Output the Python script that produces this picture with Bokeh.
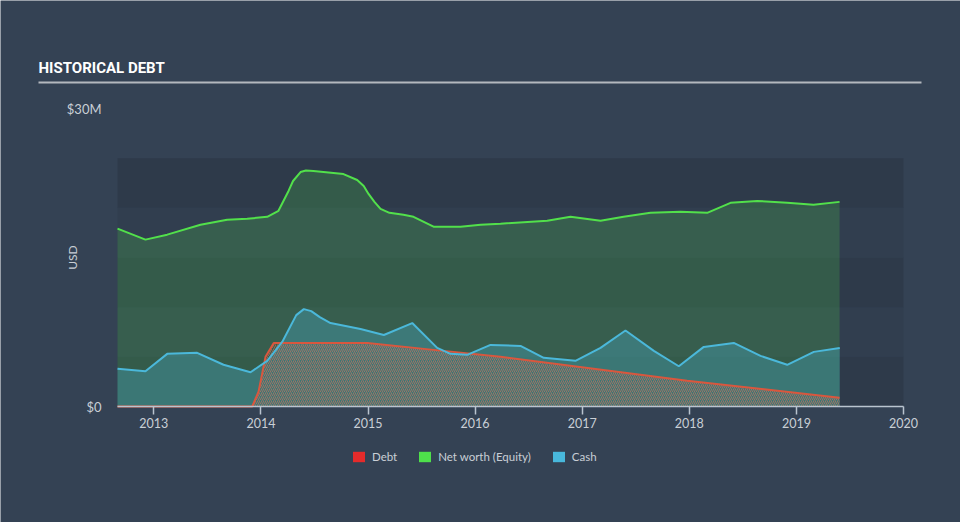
import numpy as np
from bokeh.plotting import figure
from bokeh.models import (FixedTicker, BoxAnnotation, Legend, LegendItem, Range1d,
                          Label, LinearAxis)
from bokeh.embed import file_html
from bokeh.resources import INLINE

# ---------------- data (values in $ millions, time in decimal years) ----------------
equity_t = [2012.661, 2012.922, 2013.125, 2013.436, 2013.685, 2013.872, 2014.059, 2014.164,
            2014.258, 2014.300, 2014.370, 2014.420, 2014.491, 2014.771, 2014.899, 2014.960,
            2015.005, 2015.060, 2015.117, 2015.200, 2015.331, 2015.425, 2015.612, 2015.864,
            2016.051, 2016.237, 2016.673, 2016.891, 2017.171, 2017.386, 2017.638, 2017.918,
            2018.167, 2018.385, 2018.634, 2018.914, 2019.160, 2019.403]
equity_v = [17.9, 16.8, 17.3, 18.3, 18.8, 18.9, 19.1, 19.7,
            21.7, 22.7, 23.6, 23.75, 23.7, 23.4, 22.8, 22.2,
            21.4, 20.6, 19.9, 19.5, 19.3, 19.1, 18.1, 18.1,
            18.3, 18.4, 18.7, 19.1, 18.7, 19.1, 19.5, 19.6,
            19.5, 20.5, 20.7, 20.5, 20.3, 20.6]

cash_t = [2012.661, 2012.922, 2013.125, 2013.405, 2013.651, 2013.903, 2014.059, 2014.199,
          2014.330, 2014.401, 2014.470, 2014.550, 2014.650, 2014.930, 2015.148, 2015.413,
          2015.646, 2015.770, 2015.926, 2016.144, 2016.424, 2016.641, 2016.937, 2017.171,
          2017.404, 2017.669, 2017.902, 2018.135, 2018.415, 2018.665, 2018.914, 2019.163,
          2019.405]
cash_v = [3.8, 3.55, 5.3, 5.4, 4.2, 3.45, 4.6, 6.5,
          9.2, 9.8, 9.6, 9.0, 8.4, 7.8, 7.2, 8.4,
          5.9, 5.3, 5.2, 6.2, 6.1, 4.9, 4.6, 5.9,
          7.65, 5.6, 4.05, 6.0, 6.4, 5.1, 4.2, 5.5,
          5.9]

debt_t = [2012.661, 2013.919, 2013.978, 2014.043, 2014.120, 2014.993, 2015.612, 2016.237,
          2017.980, 2019.403]
debt_v = [0.0, 0.0, 1.5, 5.0, 6.4, 6.4, 5.7, 5.0, 2.6, 0.87]

x_ticks = [2013, 2014, 2015, 2016, 2017, 2018, 2019, 2020]
y_ticks = [0, 30]
y_tick_labels = ["$0", "$30M"]
band_edges = [0, 5, 10, 15, 20, 25]
series_names = ["Debt", "Net worth (Equity)", "Cash"]
chart_title = "HISTORICAL DEBT"
y_label = "USD"

# ---------------- styling / layout ----------------
BG = "#344254"
BAND_A = "#2e3a4a"
BAND_B = "#313e4f"
GREEN = "#52e04b"
BLUE = "#4bb8da"
RED_LINE = "#d9573e"
TEXT = "#c9cfd6"
AXIS = "#b9c4cf"
FONT = "Lato"

W, H = 960, 522
# pixel positions of the plotting area inside the canvas
PL, PR, PT, PB = 117, 903, 108, 406
X0, X1 = 2012.661, 2020.0      # visible time span of the plotting area
Y0, Y1 = 0.0, 30.0             # value span of the plotting area ($M)

sx = (PR - PL) / (X1 - X0)
sy = (PB - PT) / (Y1 - Y0)
# the frame covers the whole canvas; ranges extended so the plotting area lands at PL..PR, PT..PB
XR0, XR1 = X0 - PL / sx, X1 + (W - PR) / sx
YR0, YR1 = Y0 - (H - PB) / sy, Y1 + PT / sy


def dx(px):
    return XR0 + px / sx


def dy(py):
    return YR1 - py / sy


p = figure(width=W, height=H, output_backend="svg", toolbar_location=None,
           x_range=Range1d(XR0, XR1), y_range=Range1d(YR0, YR1),
           x_axis_location=None, y_axis_location=None, min_border=0)
p.background_fill_color = BG
p.border_fill_color = BG
p.outline_line_color = None
p.grid.visible = False

# background bands
for i in range(len(band_edges) - 1):
    p.add_layout(BoxAnnotation(left=X0, right=X1, bottom=band_edges[i], top=band_edges[i + 1],
                               fill_color=BAND_A if i % 2 == 0 else BAND_B,
                               fill_alpha=1.0, line_color=None, level="underlay"))

# areas
p.varea(x=equity_t, y1=0, y2=equity_v, fill_color=GREEN, fill_alpha=0.2)
p.varea(x=cash_t, y1=0, y2=cash_v, fill_color=BLUE, fill_alpha=0.3)
p.varea(x=debt_t, y1=0, y2=debt_v, fill_color=None, fill_alpha=0,
        hatch_pattern="right_diagonal_line", hatch_color="#e0705a",
        hatch_alpha=0.6, hatch_scale=4, hatch_weight=1)

# lines
p.line(debt_t, debt_v, line_color=RED_LINE, line_width=2)
p.line(cash_t, cash_v, line_color=BLUE, line_width=2)
p.line(equity_t, equity_v, line_color=GREEN, line_width=2)

# x axis, drawn at value 0
xaxis = LinearAxis(fixed_location=Y0, bounds=(X0, X1), ticker=FixedTicker(ticks=x_ticks))
xaxis.axis_line_color = AXIS
xaxis.axis_line_width = 1.5
xaxis.major_tick_line_color = AXIS
xaxis.major_tick_line_width = 1.5
xaxis.major_tick_in = 0
xaxis.major_tick_out = 8
xaxis.minor_tick_line_color = None
xaxis.major_label_text_color = TEXT
xaxis.major_label_text_font = FONT
xaxis.major_label_text_font_size = "12.5px"
xaxis.major_label_standoff = 3
p.add_layout(xaxis, "below")

# y axis, drawn at the left edge of the plotting area
yaxis = LinearAxis(fixed_location=X0, ticker=FixedTicker(ticks=y_ticks))
yaxis.major_label_overrides = {t: l for t, l in zip(y_ticks, y_tick_labels)}
yaxis.axis_line_color = None
yaxis.major_tick_line_color = None
yaxis.minor_tick_line_color = None
yaxis.major_label_text_color = TEXT
yaxis.major_label_text_font = FONT
yaxis.major_label_text_font_size = "13px"
yaxis.major_label_standoff = 10
p.add_layout(yaxis, "left")

# title and rule
p.add_layout(Label(x=dx(38), y=dy(67), text=chart_title, text_color="#ffffff",
                   text_font="Roboto", text_font_style="bold",
                   text_font_size="15px", text_baseline="middle", text_align="left"))
p.add_layout(BoxAnnotation(left=dx(38), right=dx(921), top=dy(81), bottom=dy(83),
                           fill_color="#b3b8be", fill_alpha=1.0, line_color=None))

# USD label
p.add_layout(Label(x=dx(72), y=dy(257), text=y_label, angle=np.pi / 2,
                   text_color=TEXT, text_font=FONT, text_font_size="12px",
                   text_align="center", text_baseline="middle"))

# legend: hidden copies of the series areas give solid swatches
leg_cols = ["#e52b2b", "#4ee04b", "#48b8dc"]
leg_src = [(debt_t, debt_v), (equity_t, equity_v), (cash_t, cash_v)]
items = []
for name, col, (tt, vv) in zip(series_names, leg_cols, leg_src):
    r = p.varea(x=tt, y1=0, y2=vv, fill_color=col, fill_alpha=1.0, visible=False)
    items.append(LegendItem(label=name, renderers=[r]))
legend = Legend(items=items, orientation="horizontal", location=(351, H - 466),
                background_fill_alpha=0, border_line_color=None, inactive_fill_alpha=0,
                label_text_color=TEXT, label_text_font=FONT, label_text_font_size="11.5px",
                glyph_width=15, glyph_height=13, label_standoff=6, spacing=20,
                label_height=20, padding=0, margin=0, click_policy="none")
p.add_layout(legend)

open("out.html", "w").write(file_html(p, INLINE))
